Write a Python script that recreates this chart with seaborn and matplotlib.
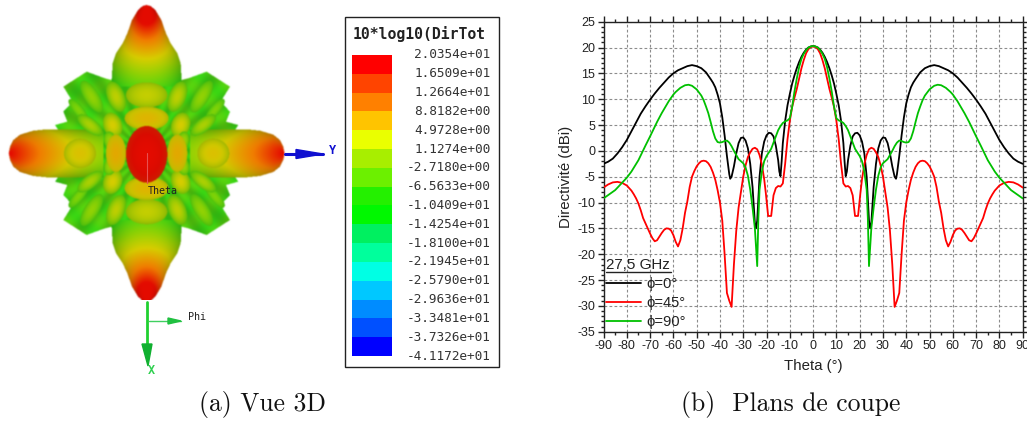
import numpy as np
import pandas as pd
import seaborn as sns
import matplotlib
matplotlib.use("Agg")
import matplotlib.pyplot as plt
from matplotlib.path import Path
from matplotlib.patches import Rectangle, Polygon
from matplotlib.ticker import MultipleLocator

# ---------- data (half patterns, the cuts are symmetric about theta = 0) ----------
theta_black = [0,1,2,3,4,5,6,7,8,9,10,11,12,13,13.5,14,14.5,15,16,17,18,19,20,21,22,23,24,24.5,25,26,27,28,29,30,31,32,33,34,35,35.6,36,37,38,39,40,41,42,43,44,46,48,50,52,54,56,58,60,62,64,66,68,70,72,74,76,78,80,82,84,86,88,90]
dir_black = [20.3,20.2,20,19.6,19,18.2,17.2,16,14.6,13,11,8.8,5.8,1.5,-2,-4.9,-4,-1.8,1,2.8,3.4,3.5,3,1.8,-0.5,-5,-13.5,-15,-14,-7,-2.5,0.5,2,2.6,2.5,1.5,-0.5,-3,-5,-5.4,-4.5,-1,3,6.5,9.2,10.9,12.3,13.2,13.9,15.2,16,16.4,16.6,16.4,16,15.6,15,14.2,13.2,12.2,11.1,9.9,8.6,7.2,5.5,3.8,2.1,0.7,-0.5,-1.5,-2.1,-2.5]
theta_red = [0,1,2,3,4,5,6,7,8,9,10,11,12,13,14,15,16,17,18,19.3,20.3,21,22,23,24,25,26,27,28,29,30,31,32,33,34,35,36,37,38,39,40,41,42,43,44,45,46,47,48,49,50,51,52,53,54,55,56,57,58,59,60,61,62,63,64,65,66,67,68,69,70,71,72,73,74,75,76,77,78,80,82,84,86,88,90]
dir_red = [20.2,20.1,19.7,18.9,17.6,16,14,12,10.3,8.5,5.8,2.2,-2.5,-6.3,-6.9,-6.8,-7.2,-8.6,-12.6,-12.6,-8.2,-5.5,-2.6,-0.8,0.3,0.6,0.4,-0.3,-1.2,-2.8,-5,-8,-11,-15.5,-22,-30.2,-29,-27.5,-20,-13.5,-10,-7.6,-5.6,-4.2,-3.1,-2.4,-2,-1.9,-2,-2.4,-3,-3.9,-5,-7,-9.8,-12,-15,-17.3,-18.5,-17.6,-16.3,-15.4,-15.05,-15,-15.3,-15.9,-16.6,-17.3,-17.5,-16.9,-16,-15,-14,-13,-11.5,-10.2,-9.2,-8.4,-7.7,-6.7,-6.2,-6,-6.1,-6.5,-7.1]
theta_green = [0,1,2,3,4,5,6,7,8,9,10,11,12,13,14,15,16,17,18,19,20,21,22,23,23.5,24,24.5,25,26,27,28,29,30,31,32,33,34,35,36,37,38,39,40,41,42,43,44,45,46,47,48,50,52,53.5,55,57,59,60,62,65,67,70,72,75,78,80,85,90]
dir_green = [20.3,20.2,20,19.5,18.8,17.8,16.2,14,11.5,8.5,6.3,5.9,5.7,5.4,4.8,4,2.8,1.6,0.4,-0.3,-1,-2,-4,-7.5,-13,-22.3,-18.5,-15,-11,-7.5,-4.8,-3.2,-2.4,-2,-1.6,-0.8,0,0.9,1.6,2,1.9,1.7,1.6,1.7,2.4,3.8,5.6,7.3,8.6,9.8,10.7,11.9,12.6,12.8,12.7,12.2,11.4,10.9,9.6,7.3,5.6,2.8,1,-1.8,-4,-5.2,-7.6,-9.2]

series_labels = ["ϕ=0°", "ϕ=45°", "ϕ=90°"]
series_colors = ["#000000", "#ff0000", "#00c000"]
legend_title = "27,5 GHz"

scale_title = "10*log10(DirTot"
scale_labels = ["2.0354e+01","1.6509e+01","1.2664e+01","8.8182e+00","4.9728e+00","1.1274e+00",
                "-2.7180e+00","-6.5633e+00","-1.0409e+01","-1.4254e+01","-1.8100e+01","-2.1945e+01",
                "-2.5790e+01","-2.9636e+01","-3.3481e+01","-3.7326e+01","-4.1172e+01"]
scale_colors = ["#ff0000","#ff4400","#ff8000","#ffc400","#eaff00","#a8ee00","#6cf000","#24f000",
                "#00f800","#00f060","#00ff9c","#00ffe4","#00c8ff","#008cff","#0050ff","#0000ff"]

# ---------- figure ----------
sns.set_style("ticks")
plt.rcParams["font.family"] = ["Liberation Sans", "DejaVu Sans"]
plt.rcParams["axes.unicode_minus"] = False
W, H = 1027, 423
fig = plt.figure(figsize=(W/100, H/100), dpi=100)

# ---------- left panel: pixel-space canvas ----------
bg = fig.add_axes([0, 0, 1, 1], zorder=0)
bg.set_xlim(0, W); bg.set_ylim(H, 0); bg.axis("off")

SS = 2
cw, ch = 340, 300
yy, xx = np.mgrid[0:ch*SS, 0:cw*SS]
xx = (xx + .5) / SS * 3; yy = (yy + .5) / SS * 3   # coordinates of the 3x zoom
CX, CY = 440., 460.
img = np.ones((ch*SS, cw*SS, 3))

ramp_t = [0, .28, .52, .78, 1]
ramp_c = np.array([[55,215,20],[140,210,5],[215,205,0],[240,125,0],[228,12,0]], float) / 255
def ramp(t):
    t = np.clip(t, 0, 1)
    return np.stack([np.interp(t, ramp_t, ramp_c[:, i]) for i in range(3)], -1)

def paint(mask, rgb):
    img[mask] = rgb[mask] if rgb.ndim == 3 else rgb

def ellipse(dx, dy, a, b, ang, tc, te):
    """shaded lobe; dx/dy relative to the centre, y up"""
    th = np.radians(ang)
    X, Y = xx - (CX + dx), -(yy - (CY - dy))
    u = (X*np.cos(th) + Y*np.sin(th)) / a
    v = (-X*np.sin(th) + Y*np.cos(th)) / b
    r2 = u*u + v*v
    rgb = ramp(te + (tc - te) * (1 - r2))
    rgb = rgb * (0.86 + 0.14*np.clip(1 - r2, 0, 1)**.6)[..., None]
    paint(r2 < 1, rgb)

def mirrored(dx, dy, a, b, ang, tc, te):
    for sx in (1, -1):
        for sy in (1, -1):
            ellipse(sx*dx, sy*dy, a, b, ang*sx*sy, tc, te)

# green flower body
q = [(0,220),(105,220),(125,225),(180,245),(250,200),(222,155),(250,125),(238,95),(275,85),(258,60),(270,0)]
outline = q + [(x,-y) for x,y in q[::-1]] + [(-x,-y) for x,y in q] + [(-x,y) for x,y in q[::-1]]
pts = np.c_[(xx-CX).ravel(), (CY-yy).ravel()]
body = Path(outline).contains_points(pts).reshape(xx.shape)
shade = 0.06 + 0.05*np.sin(np.hypot(xx-CX, yy-CY)/12)
paint(body, ramp(shade) * (0.92 + 0.08*np.sin((np.arctan2(yy-CY, xx-CX))*24)[..., None]))

# vertical lobes
v_d = [200,220,270,300,330,360,400,430,442,445]
v_w = [105,105,102,92,72,58,44,26,12,0]
for s in (1, -1):
    d = s*(CY - yy)
    hw = np.interp(d, v_d, v_w, left=0, right=0)
    lat = np.abs(xx-CX) / np.maximum(hw, 1)
    rgb = ramp((d-215)/210*.98 + .2 - .22*lat**2) * (1 - .2*lat**3)[..., None]
    paint((lat < 1) & (hw > 0) & (d > 200), rgb)
# horizontal lobes
h_d = [130,240,300,340,380,400,410,414]
h_w = [72,72,72,68,56,40,20,0]
for s in (1, -1):
    d = s*(xx - CX)
    hw = np.interp(d, h_d, h_w, left=0, right=0)
    lat = np.abs(yy-CY) / np.maximum(hw, 1)
    rgb = ramp((d-130)/285*.72 + .3 - .22*lat**2) * (1 - .22*lat**3)[..., None]
    paint((lat < 1) & (hw > 0) & (d > 130), rgb)

# petals
mirrored(165,170,22,55,-32,.3,.1)
mirrored(205,130,15,42,-40,.24,.08)
mirrored(92,170,26,48,-22,.44,.16)
mirrored(170,85,20,46,-52,.38,.12)
mirrored(102,85,28,38,-20,.52,.24)
mirrored(110,38,18,28,-10,.34,.12)
for s in (1,-1):
    ellipse(0,s*175,62,38,0,.46,.34)
    ellipse(0,s*105,66,35,0,.6,.46)
    ellipse(s*200,0,48,44,0,.56,.42)
    ellipse(s*92,0,30,56,0,.64,.5)
ellipse(0,-3,62,85,0,1.04,.96)

# soft look of the screenshot
k = np.array([1,2,3,2,1.]); k /= k.sum()
for ax_ in (0, 1):
    img = np.apply_along_axis(lambda m: np.convolve(np.pad(m, 2, mode="edge"), k, "valid"), ax_, img)
bg.imshow(img, extent=(0, cw, ch, 0), interpolation="bilinear", aspect="auto", zorder=1)
bg.set_xlim(0, W); bg.set_ylim(H, 0)

# coordinate arrows (positions in px)
bg.plot([146.7,146.7],[153,183], color="#e85050", lw=.8, zorder=2)
bg.text(147.5,191.5,"Theta", family="DejaVu Sans Mono", fontsize=7.2, color="#222222", va="center", zorder=3)
bg.plot([285,323],[154,154], color="#1010d0", lw=2.2, zorder=2)
bg.add_patch(Polygon([[296,149.5],[323,154],[296,158.5]], color="#1010d0", zorder=2))
bg.text(332,150,"Y", family="DejaVu Sans Mono", weight="bold", fontsize=8.5, color="#1010d0", ha="center", va="center", zorder=3)
bg.plot([146.7,146.7],[302,345], color="#20d030", lw=2, zorder=2)
bg.add_patch(Polygon([[142,344],[152,344],[148,366]], color="#10b030", zorder=2))
bg.text(151,371,"X", family="DejaVu Sans Mono", weight="bold", fontsize=8.5, color="#30d050", ha="center", va="center", zorder=3)
bg.plot([149,181],[321,321], color="#40d060", lw=1, zorder=2)
bg.add_patch(Polygon([[168,318],[181,321],[168,324]], color="#20c040", zorder=2))
bg.text(188,317.5,"Phi", family="DejaVu Sans Mono", fontsize=7.2, color="#222222", va="center", zorder=3)

# colour scale box
bg.add_patch(Rectangle((344.5,17),154,350, fill=False, ec="#222222", lw=1, zorder=2))
bg.text(352.5,34,scale_title, family="DejaVu Sans Mono", weight="bold", fontsize=10.6, color="#222222", va="center", zorder=3)
y0, y1 = 55., 356.
edges = np.linspace(y0, y1, len(scale_colors)+1)
for c, a, b in zip(scale_colors, edges[:-1], edges[1:]):
    bg.add_patch(Rectangle((352,a),40,b-a, color=c, lw=0, zorder=2))
for lab, y in zip(scale_labels, edges):
    bg.text(490.5,y,lab, family="DejaVu Sans Mono", fontsize=9.2, color="#333333", ha="right", va="center", zorder=3)

# captions
cap = dict(family="cmr10", fontsize=18.4, color="#111111", ha="center", va="center", zorder=3)
bg.text(262.5,405,"(a) Vue 3D", **cap)
bg.text(791,405,"(b)  Plans de coupe", **cap)

# ---------- right panel ----------
L, R, T, B = 603.5, 1022.7, 21.7, 331.7
ax = fig.add_axes([L/W, 1-B/H, (R-L)/W, (B-T)/H], zorder=2)
frames = []
for name, th, d in zip(series_labels, (theta_black, theta_red, theta_green), (dir_black, dir_red, dir_green)):
    th, d = np.array(th, float), np.array(d, float)
    frames.append(pd.DataFrame({"theta": np.r_[-th[:0:-1], th], "dir": np.r_[d[:0:-1], d], "cut": name}))
df = pd.concat(frames, ignore_index=True)
sns.lineplot(data=df, x="theta", y="dir", hue="cut", palette=series_colors, estimator=None, sort=False,
             lw=1.3, ax=ax, zorder=3)
ax.set_xlim(-90, 90); ax.set_ylim(-35, 25)
ax.xaxis.set_major_locator(MultipleLocator(10)); ax.xaxis.set_minor_locator(MultipleLocator(5))
ax.yaxis.set_major_locator(MultipleLocator(5)); ax.yaxis.set_minor_locator(MultipleLocator(1))
ax.grid(True, which="major", color="#8c8c8c", ls=(0,(2.5,2)), lw=.8, zorder=1)
ax.set_axisbelow(True)
ax.tick_params(which="major", direction="out", length=4, width=1, labelsize=9, pad=2, top=True, right=True, color="#222222", labelcolor="#222222")
ax.tick_params(which="minor", direction="out", length=2.2, width=1, top=True, right=True, color="#222222")
for s in ax.spines.values():
    s.set_linewidth(1); s.set_color("#222222"); s.set_visible(True)
ax.set_xlabel("Theta (°)", fontsize=10.8, color="#222222", labelpad=5)
ax.set_ylabel("Directivité (dBi)", fontsize=10.8, color="#222222", labelpad=3)

h, l = ax.get_legend_handles_labels()
leg = ax.legend(h, l, loc="lower left", bbox_to_anchor=(0.0, 0.0), frameon=False, fontsize=10.6,
                handlelength=2.35, handletextpad=.35, labelspacing=.33, borderpad=.1, borderaxespad=.1,
                labelcolor="#222222")
ax.text(606, 265, legend_title, transform=bg.transData, fontsize=10.9, color="#222222", va="center", zorder=6)
ax.plot([606,671],[272.5,272.5], transform=bg.transData, color="#222222", lw=1, clip_on=False, zorder=6)

fig.savefig("out.png", dpi=100)
